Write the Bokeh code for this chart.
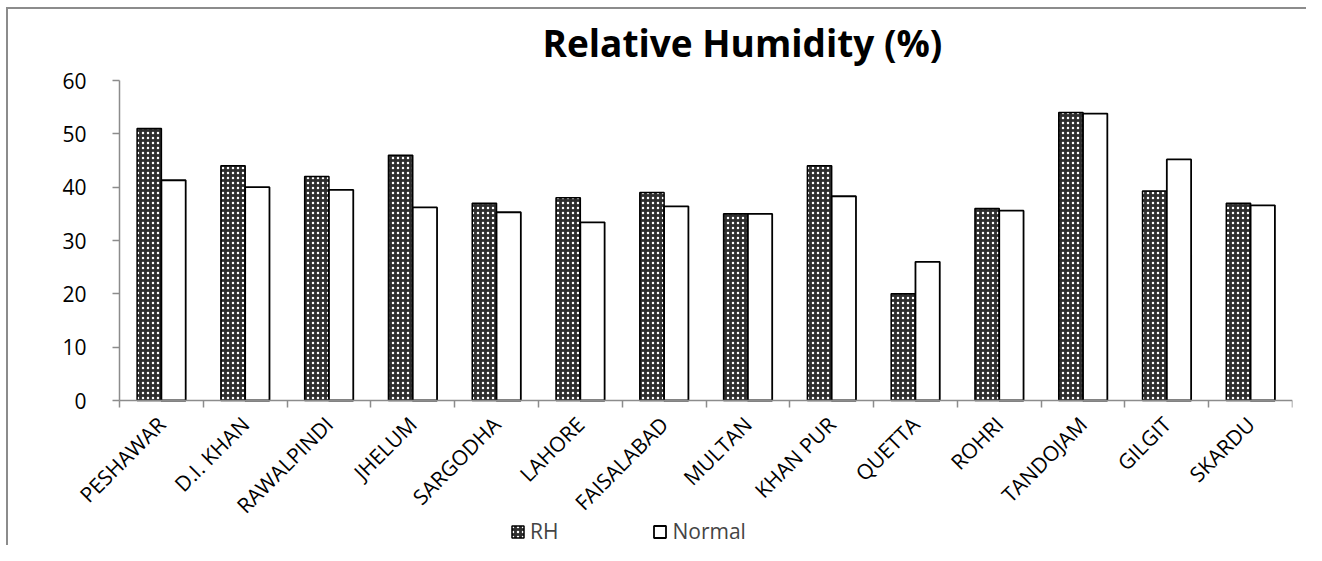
import math
from bokeh.plotting import figure
from bokeh.models import ColumnDataSource, FixedTicker, Legend, LegendItem, Range1d
from bokeh.embed import file_html
from bokeh.resources import INLINE

stations = ["PESHAWAR", "D.I. KHAN", "RAWALPINDI", "JHELUM", "SARGODHA", "LAHORE",
            "FAISALABAD", "MULTAN", "KHAN PUR", "QUETTA", "ROHRI", "TANDOJAM", "GILGIT", "SKARDU"]
rh = [51, 44, 42, 46, 37, 38, 39, 35, 44, 20, 36, 54, 39.3, 37]
normal = [41.3, 40, 39.5, 36.2, 35.3, 33.4, 36.4, 35, 38.3, 26, 35.6, 53.8, 45.2, 36.6]

FONT = "Open Sans"
bw = 0.29
n = len(stations)
centers = [i + 0.5 for i in range(n)]
src = ColumnDataSource(dict(
    x_rh=[c - bw / 2 for c in centers],
    x_n=[c + bw / 2 for c in centers],
    rh=rh, normal=normal,
))

# layout (pixels): plot area 1173 x 320 for 14 categories x 0..60; the frame is
# extended left, up and down so the axes' labels and the legend live inside it
PLOT_W, PLOT_H = 1173, 320
LEFT_PAD, TOP_PAD, FRAME_H = 109, 10, 475
x_start = -LEFT_PAD / PLOT_W * n
y_top = 60 + TOP_PAD / PLOT_H * 60
y_bottom = -(FRAME_H - TOP_PAD - PLOT_H) / PLOT_H * 60

p = figure(frame_width=PLOT_W + LEFT_PAD, frame_height=FRAME_H,
           output_backend="svg", toolbar_location=None,
           x_range=Range1d(x_start, n), y_range=Range1d(y_bottom, y_top),
           min_border_left=10, min_border_right=14, min_border_top=70, min_border_bottom=0)
p.border_fill_color = None
p.styles = {
    "background": ("linear-gradient(#8c8c8c,#8c8c8c) 6px 7px / 2px 100% no-repeat, "
                   "linear-gradient(#8c8c8c,#8c8c8c) 6px 7px / 100% 2px no-repeat, white"),
}

r1 = p.vbar(x="x_rh", top="rh", width=bw, source=src, fill_color="#2e2e2e",
            hatch_pattern="dot", hatch_color="white", hatch_scale=5, hatch_weight=1.2,
            line_color="black", line_width=1.5)
r2 = p.vbar(x="x_n", top="normal", width=bw, source=src, fill_color="white",
            line_color="black", line_width=1.8)

p.title.text = "Relative Humidity (%)"
p.title.text_font = FONT
p.title.text_font_size = "37px"
p.title.text_font_style = "bold"
p.title.align = "left"
p.title.offset = 532
p.title.text_color = "black"
p.title.standoff = 5

p.xgrid.visible = False
p.ygrid.visible = False
p.outline_line_color = None

xa = p.xaxis[0]
xa.fixed_location = 0
xa.bounds = (0, n)
xa.ticker = FixedTicker(ticks=centers, minor_ticks=list(range(n + 1)))
xa.major_label_overrides = {c: s for c, s in zip(centers, stations)}
xa.major_label_orientation = math.pi / 4
xa.major_tick_out = 0
xa.major_tick_in = 0
xa.minor_tick_out = 7
xa.minor_tick_in = 0
xa.minor_tick_line_color = "#8c8c8c"
xa.minor_tick_line_width = 1.5
xa.axis_line_color = "#8c8c8c"
xa.axis_line_width = 1.5
xa.major_label_text_font = FONT
xa.major_label_text_font_size = "21px"
xa.major_label_text_color = "black"
xa.major_label_standoff = 13

ya = p.yaxis[0]
ya.fixed_location = 0
ya.bounds = (0, 60)
ya.ticker = FixedTicker(ticks=[0, 10, 20, 30, 40, 50, 60])
ya.major_tick_out = 7
ya.major_tick_in = 0
ya.minor_tick_out = 0
ya.minor_tick_in = 0
ya.major_tick_line_color = "#8c8c8c"
ya.major_tick_line_width = 1.5
ya.axis_line_color = "#8c8c8c"
ya.axis_line_width = 1.5
ya.major_label_text_font = FONT
ya.major_label_text_font_size = "21px"
ya.major_label_text_color = "black"
ya.major_label_standoff = 26

legend = Legend(items=[LegendItem(label="RH", renderers=[r1]),
                       LegendItem(label="Normal", renderers=[r2])],
                orientation="horizontal", location=(500, 0),
                label_text_font=FONT, label_text_font_size="21px",
                glyph_width=15, glyph_height=15, label_standoff=5, spacing=94,
                padding=0, margin=0, border_line_color=None,
                background_fill_alpha=0)
p.add_layout(legend, "center")

open("out.html", "w").write(file_html(p, INLINE))
